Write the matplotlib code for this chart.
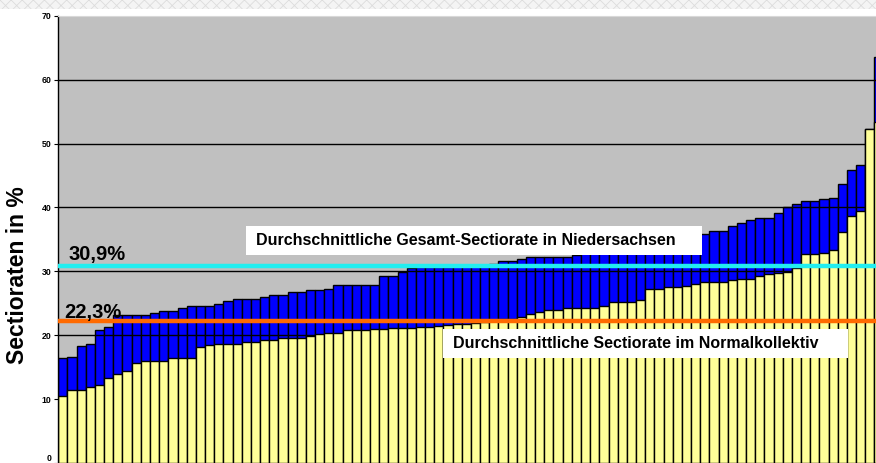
import matplotlib
matplotlib.use("Agg")
import matplotlib.pyplot as plt
from matplotlib.patches import Rectangle

plt.rcParams['font.family'] = ['Liberation Sans', 'DejaVu Sans']
plt.rcParams['hatch.linewidth'] = 0.6

# Sectioraten je Klinik (sortiert), Normalkollektiv und Gesamt
normal = [10.5, 11.4, 11.4, 11.9, 12.2, 13.3, 14.0, 14.4, 15.7, 16.0,
          16.0, 16.0, 16.5, 16.5, 16.5, 18.2, 18.5, 18.7, 18.7, 18.7,
          19.0, 19.0, 19.2, 19.2, 19.5, 19.5, 19.5, 19.9, 20.2, 20.4,
          20.4, 20.8, 20.8, 20.8, 20.9, 20.9, 21.1, 21.2, 21.2, 21.3,
          21.3, 21.4, 21.6, 21.8, 21.8, 21.9, 22.0, 22.4, 22.6, 22.6,
          22.9, 23.3, 23.7, 23.9, 23.9, 24.2, 24.2, 24.2, 24.3, 24.5,
          25.2, 25.2, 25.2, 25.5, 27.2, 27.2, 27.5, 27.5, 27.7, 28.0,
          28.3, 28.3, 28.3, 28.6, 28.8, 28.8, 29.2, 29.6, 29.8, 29.9,
          30.5, 32.7, 32.7, 32.9, 33.3, 36.2, 38.7, 39.5, 52.2, 53.3]
gesamt = [16.4, 16.6, 18.3, 18.6, 20.8, 21.3, 23.2, 23.2, 23.2, 23.2,
          23.5, 23.8, 23.8, 24.3, 24.6, 24.6, 24.6, 24.9, 25.4, 25.7,
          25.7, 25.7, 26.0, 26.3, 26.3, 26.8, 26.8, 27.1, 27.1, 27.3,
          27.9, 27.9, 27.9, 27.9, 27.9, 29.3, 29.3, 29.9, 30.5, 30.6,
          30.6, 30.7, 30.7, 30.8, 30.8, 30.9, 30.9, 31.1, 31.6, 31.6,
          31.9, 32.2, 32.3, 32.3, 32.3, 32.3, 32.6, 32.8, 33.0, 33.2,
          33.4, 33.6, 33.8, 34.0, 34.2, 34.5, 34.7, 35.0, 35.2, 35.5,
          35.8, 36.3, 36.3, 37.1, 37.5, 38.0, 38.4, 38.4, 39.1, 40.1,
          40.6, 41.0, 41.0, 41.3, 41.5, 43.7, 45.9, 46.6, 52.2, 63.5]
mittel_gesamt = 30.9
mittel_normal = 22.3
yticks = [0, 10, 20, 30, 40, 50, 60, 70]

x = list(range(len(normal)))

fig = plt.figure(figsize=(8.76, 4.63), dpi=100)
band = Rectangle((0, 1 - 9 / 463), 1, 9 / 463, transform=fig.transFigure,
                 facecolor='#f4f4f4', edgecolor='#dcdcdc', hatch='xxx', lw=0)
fig.patches.append(band)

ax = fig.add_axes([58.3 / 876, 0, 834.5 / 876, 447.3 / 463])
ax.set_facecolor('#c0c0c0')

ax.bar(x, gesamt, width=1.0, color='#0000ff', edgecolor='black', linewidth=1.0, zorder=1)
for t in yticks[1:-1]:
    ax.axhline(t, color='black', lw=1.0, zorder=1.5)
ax.bar(x, normal, width=1.0, color='#ffff99', edgecolor='black', linewidth=1.0, zorder=2)

ax.axhline(mittel_gesamt, color='#22eef0', lw=3.2, zorder=3)
ax.axhline(mittel_normal, color='#ff6a00', lw=3.2, zorder=3)

ax.set_xlim(-0.5, 90.5)
ax.set_ylim(0, 70)
ax.set_xticks([])
ax.set_yticks(yticks)
ax.set_yticklabels([str(t) for t in yticks], fontsize=6.3, fontweight='bold')
ax.get_yticklabels()[0].set_va('bottom')
ax.tick_params(axis='y', length=3, width=0.8, pad=2, direction='out')
for s in ['right', 'bottom']:
    ax.spines[s].set_visible(False)
ax.spines['top'].set_color('#d8d8d8')
ax.spines['left'].set_linewidth(1.0)

ax.set_ylabel('Sectioraten in %', fontsize=16.5, fontweight='bold')
ax.yaxis.set_label_coords(-0.035, 0.42)

ax.text(0.56, 31.7, '30,9%', fontsize=14.5, fontweight='bold', va='baseline', zorder=5)
ax.text(0.2, 22.75, '22,3%', fontsize=14.5, fontweight='bold', va='baseline', zorder=5)

# Beschriftungskaesten
ax.add_patch(Rectangle((19.97, 32.55), 49.7, 4.55, facecolor='white', edgecolor='none', zorder=4))
ax.text(21.06, 34.8, 'Durchschnittliche Gesamt-Sectiorate in Niedersachsen',
        fontsize=11.5, fontweight='bold', va='center', ha='left', zorder=5)
ax.add_patch(Rectangle((41.45, 16.43), 44.15, 4.54, facecolor='white', edgecolor='none', zorder=4))
ax.text(42.5, 18.7, 'Durchschnittliche Sectiorate im Normalkollektiv',
        fontsize=11.5, fontweight='bold', va='center', ha='left', zorder=5)

fig.savefig('out.png', dpi=100)
